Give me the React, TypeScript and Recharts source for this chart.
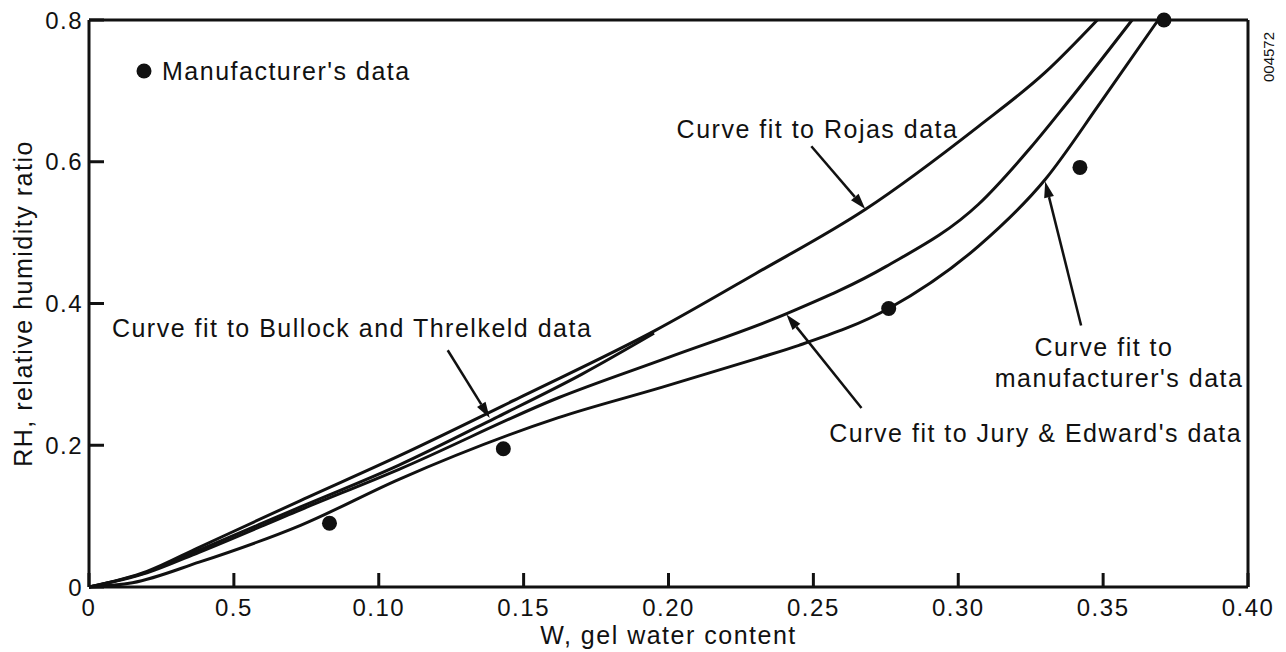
import React from 'react'
import { ComposedChart, Line, Scatter, XAxis, YAxis, ReferenceLine, ReferenceDot, Legend } from 'recharts'

const INK = '#111'
const FONT = '"Liberation Sans", Arial, Helvetica, sans-serif'

const X_TICKS = [0, 0.05, 0.1, 0.15, 0.2, 0.25, 0.3, 0.35, 0.4]
const X_TICK_LABELS = ['0', '0.5', '0.10', '0.15', '0.20', '0.25', '0.30', '0.35', '0.40']
const Y_TICKS = [0, 0.2, 0.4, 0.6, 0.8]
const Y_TICK_LABELS = ['0', '0.2', '0.4', '0.6', '0.8']

// curve fit to Rojas data
const ROJAS_W = [0, 0.02, 0.038, 0.073, 0.107, 0.15, 0.195, 0.23, 0.268, 0.307, 0.33, 0.348]
const ROJAS_RH = [0, 0.022, 0.056, 0.122, 0.185, 0.27, 0.361, 0.442, 0.533, 0.65, 0.726, 0.8]

// curve fit to Bullock and Threlkeld data (short one)
const BULLOCK_W = [0, 0.02, 0.038, 0.073, 0.107, 0.14, 0.17, 0.195]
const BULLOCK_RH = [0, 0.021, 0.052, 0.113, 0.172, 0.238, 0.3, 0.358]

// curve fit to Jury & Edward's data
const JURY_W = [0, 0.02, 0.038, 0.073, 0.107, 0.162, 0.2, 0.241, 0.275, 0.307, 0.325, 0.337, 0.36]
const JURY_RH = [0, 0.02, 0.049, 0.109, 0.166, 0.267, 0.324, 0.386, 0.452, 0.54, 0.62, 0.68, 0.8]

// curve fit to manufacturer's data
const MFR_W = [0, 0.015, 0.038, 0.073, 0.107, 0.162, 0.197, 0.231, 0.245, 0.276, 0.307, 0.33, 0.349, 0.369]
const MFR_RH = [0, 0.006, 0.035, 0.087, 0.152, 0.239, 0.281, 0.323, 0.341, 0.393, 0.481, 0.575, 0.683, 0.8]

// manufacturer's data points
const POINTS_W = [0.083, 0.143, 0.276, 0.342, 0.371]
const POINTS_RH = [0.09, 0.195, 0.393, 0.592, 0.8]

const toRows = (w: number[], rh: number[]) => w.map((v, i) => ({ w: v, rh: rh[i] }))

const rojas = toRows(ROJAS_W, ROJAS_RH)
const bullock = toRows(BULLOCK_W, BULLOCK_RH)
const jury = toRows(JURY_W, JURY_RH)
const mfr = toRows(MFR_W, MFR_RH)
const points = toRows(POINTS_W, POINTS_RH)

const textStyle = { fill: INK, fontSize: 25, fontFamily: FONT, letterSpacing: 1.5, style: { letterSpacing: '1.5px' } }
const tickStyle = { fill: INK, fontSize: 24, fontFamily: FONT, letterSpacing: 1.5, style: { letterSpacing: '1.5px' } }

// arrow drawn from the segment end points the library computes
const Arrow = (p: any) => {
  const { x1, y1, x2, y2 } = p
  const ang = Math.atan2(y2 - y1, x2 - x1)
  const len = 16
  const half = 5
  const bx = x2 - len * Math.cos(ang)
  const by = y2 - len * Math.sin(ang)
  const nx = -Math.sin(ang) * half
  const ny = Math.cos(ang) * half
  return (
    <g>
      <line x1={x1} y1={y1} x2={bx} y2={by} stroke={INK} strokeWidth={2.5} />
      <polygon points={`${x2},${y2} ${bx + nx},${by + ny} ${bx - nx},${by - ny}`} fill={INK} />
    </g>
  )
}

const Dot = (p: any) => <circle cx={p.cx} cy={p.cy} r={7.5} fill={INK} />

const LegendBox = () => (
  <div style={{ display: 'flex', alignItems: 'center', fontSize: 25, lineHeight: '24px', letterSpacing: '1.5px', fontFamily: FONT, color: INK, whiteSpace: 'nowrap' }}>
    <svg width={16} height={16}>
      <circle cx={8} cy={8} r={7.5} fill={INK} />
    </svg>
    <span style={{ marginLeft: 10 }}>Manufacturer's data</span>
  </div>
)

export default function App() {
  return (
    <div style={{ position: 'relative', width: 1278, height: 644 }}>
      <ComposedChart width={1278} height={644} margin={{ top: 12, right: 38, bottom: 5, left: 0 }}>
        <XAxis
          dataKey="w"
          type="number"
          domain={[0, 0.4]}
          ticks={X_TICKS}
          interval={0}
          tickFormatter={(v) => X_TICK_LABELS[X_TICKS.indexOf(v)]}
          height={60}
          tickSize={-14}
          tickMargin={26}
          tick={tickStyle}
          tickLine={{ stroke: INK, strokeWidth: 3 }}
          axisLine={{ stroke: INK, strokeWidth: 3 }}
          label={{ value: 'W, gel water content', position: 'insideBottom', offset: 3, ...textStyle }}
        />
        <YAxis
          dataKey="rh"
          type="number"
          domain={[0, 0.8]}
          ticks={Y_TICKS}
          interval={0}
          tickFormatter={(v) => Y_TICK_LABELS[Y_TICKS.indexOf(v)]}
          width={81}
          tickSize={-15}
          tickMargin={21}
          tick={tickStyle}
          tickLine={{ stroke: INK, strokeWidth: 3 }}
          axisLine={{ stroke: INK, strokeWidth: 3 }}
          label={{ value: 'RH, relative humidity ratio', angle: -90, position: 'insideLeft', offset: 15, ...textStyle, style: { textAnchor: 'middle', letterSpacing: '1.5px' } }}
        />
        <ReferenceLine y={0.8} stroke={INK} strokeWidth={3} />
        <ReferenceLine x={0.4} stroke={INK} strokeWidth={3} />

        <Line data={rojas} dataKey="rh" type="monotone" stroke={INK} strokeWidth={3} dot={false} legendType="none" isAnimationActive={false} />
        <Line data={bullock} dataKey="rh" type="monotone" stroke={INK} strokeWidth={3} dot={false} legendType="none" isAnimationActive={false} />
        <Line data={jury} dataKey="rh" type="monotone" stroke={INK} strokeWidth={3} dot={false} legendType="none" isAnimationActive={false} />
        <Line data={mfr} dataKey="rh" type="monotone" stroke={INK} strokeWidth={3} dot={false} legendType="none" isAnimationActive={false} />
        <Scatter name="Manufacturer's data" data={points} dataKey="rh" fill={INK} shape={Dot} isAnimationActive={false} />

        <ReferenceLine segment={[{ x: 0.2493, y: 0.6218 }, { x: 0.2679, y: 0.5333 }]} shape={Arrow} />
        <ReferenceLine segment={[{ x: 0.1238, y: 0.334 }, { x: 0.1383, y: 0.2386 }]} shape={Arrow} />
        <ReferenceLine segment={[{ x: 0.2666, y: 0.2526 }, { x: 0.2407, y: 0.3846 }]} shape={Arrow} />
        <ReferenceLine segment={[{ x: 0.3424, y: 0.369 }, { x: 0.33, y: 0.572 }]} shape={Arrow} />

        <ReferenceDot x={0.2028} y={0.6456} r={0} label={{ value: 'Curve fit to Rojas data', position: 'right', offset: 0, ...textStyle }} />
        <ReferenceDot x={0.0079} y={0.365} r={0} label={{ value: 'Curve fit to Bullock and Threlkeld data', position: 'right', offset: 0, ...textStyle }} />
        <ReferenceDot x={0.2555} y={0.2175} r={0} label={{ value: "Curve fit to Jury & Edward's data", position: 'right', offset: 0, ...textStyle }} />
        <ReferenceDot x={0.3503} y={0.3382} r={0} label={{ value: 'Curve fit to', position: 'center', ...textStyle }} />
        <ReferenceDot x={0.3555} y={0.2947} r={0} label={{ value: "manufacturer's data", position: 'center', ...textStyle }} />

        <Legend verticalAlign="middle" align="center" layout="horizontal" wrapperStyle={{ top: 51, left: 128, width: 'auto' }} content={LegendBox} />
      </ComposedChart>
      <div
        style={{
          position: 'absolute',
          left: 1260,
          top: 49,
          transform: 'translate(-50%, -50%) rotate(-90deg)',
          fontSize: 15,
          fontFamily: FONT,
          color: INK,
        }}
      >
        004572
      </div>
    </div>
  )
}
